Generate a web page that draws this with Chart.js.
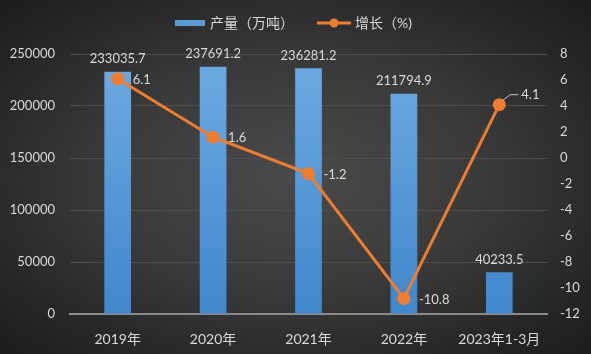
<!DOCTYPE html>
<html>
<head>
<meta charset="utf-8">
<title>产量与增长</title>
<script src="https://cdn.jsdelivr.net/npm/chart.js"></script>
<style>
  html, body { margin: 0; padding: 0; }
  body {
    width: 591px; height: 354px; overflow: hidden;
    background: radial-gradient(ellipse at 50% 50%, #4a4a4a 0%, #3a3a3a 45%, #262626 80%, #1c1c1c 100%);
  }
  #wrap { position: relative; width: 591px; height: 354px; }
</style>
</head>
<body>
<div id="wrap"><canvas id="myChart" width="591" height="354"></canvas></div>
<script>
var labels = ['2019年', '2020年', '2021年', '2022年', '2023年1-3月'];
var output = [233035.7, 237691.2, 236281.2, 211794.9, 40233.5];
var growth = [6.1, 1.6, -1.2, -10.8, 4.1];
var outputName = '产量（万吨）';
var growthName = '增长（%)';

var FONT = "Lato, 'Noto Sans CJK SC', sans-serif";
var TXT = '#d9d9d9';
var ORANGE = '#ed7d31';

var labelPlugin = {
    id: 'labels',
    afterDatasetsDraw: function (chart) {
        var ctx = chart.ctx;
        ctx.save();
        ctx.font = '13px ' + FONT;
        ctx.fillStyle = TXT;

        // bar values
        var bars = chart.getDatasetMeta(1).data;
        ctx.textAlign = 'center';
        ctx.textBaseline = 'bottom';
        bars.forEach(function (b, i) {
            ctx.fillText(output[i].toFixed(1), b.x, b.y - 6);
        });

        // line values
        var pts = chart.getDatasetMeta(0).data;
        ctx.textAlign = 'left';
        ctx.textBaseline = 'middle';
        pts.forEach(function (p, i) {
            if (i === pts.length - 1) {
                ctx.strokeStyle = '#bfbfbf';
                ctx.lineWidth = 1;
                ctx.beginPath();
                ctx.moveTo(p.x + 3, p.y - 4);
                ctx.lineTo(p.x + 11, p.y - 10);
                ctx.lineTo(p.x + 19, p.y - 10);
                ctx.stroke();
                ctx.fillText(growth[i].toFixed(1), p.x + 22, p.y - 10);
            } else {
                ctx.fillText(growth[i].toFixed(1), p.x + 15, p.y + 1);
            }
        });

        // legend
        var ly = 23;
        ctx.fillStyle = '#5b9bd5';
        ctx.fillRect(175, ly - 3, 30, 6);
        ctx.fillStyle = TXT;
        ctx.font = '14px ' + FONT;
        ctx.textBaseline = 'middle';
        ctx.fillText(outputName, 210, ly);
        ctx.strokeStyle = ORANGE;
        ctx.lineWidth = 3;
        ctx.beginPath();
        ctx.moveTo(317, ly);
        ctx.lineTo(351, ly);
        ctx.stroke();
        ctx.fillStyle = ORANGE;
        ctx.beginPath();
        ctx.arc(334, ly, 4.5, 0, Math.PI * 2);
        ctx.fill();
        ctx.fillStyle = TXT;
        ctx.fillText(growthName, 355, ly);
        ctx.restore();
    }
};

var ctx = document.getElementById('myChart').getContext('2d');
var chart = new Chart(ctx, {
    type: 'bar',
    data: {
        labels: labels,
        datasets: [{
            type: 'line',
            label: growthName,
            data: growth,
            yAxisID: 'y1',
            borderColor: ORANGE,
            backgroundColor: ORANGE,
            borderWidth: 3,
            pointRadius: 5,
            pointHoverRadius: 5,
            tension: 0,
            order: 0
        }, {
            label: outputName,
            data: output,
            yAxisID: 'y',
            backgroundColor: function (c) {
                var a = c.chart.chartArea;
                if (!a) return '#5b9bd5';
                var g = c.chart.ctx.createLinearGradient(0, a.top, 0, a.bottom);
                g.addColorStop(0, '#6eaae2');
                g.addColorStop(1, '#4087cc');
                return g;
            },
            categoryPercentage: 1,
            barPercentage: 0.28,
            order: 1
        }]
    },
    options: {
        responsive: false,
        animation: false,
        layout: { padding: { top: 54, left: 0, right: 0, bottom: 0 } },
        plugins: { legend: { display: false }, tooltip: { enabled: false } },
        scales: {
            x: {
                grid: { display: false },
                border: { display: true, color: '#8a8a8a', width: 2 },
                ticks: { color: TXT, font: { family: FONT, size: 14 }, padding: 9, maxRotation: 0 },
                afterFit: function (s) { s.height = 40; }
            },
            y: {
                position: 'left',
                min: 0, max: 250000,
                ticks: {
                    stepSize: 50000, color: TXT, font: { family: FONT, size: 13 }, padding: 15,
                    callback: function (v) { return String(v); }
                },
                grid: { color: '#4f4f4f', lineWidth: 1, drawTicks: false },
                border: { display: false },
                afterFit: function (s) { s.width = 70; }
            },
            y1: {
                position: 'right',
                min: -12, max: 8,
                ticks: {
                    stepSize: 2, color: TXT, font: { family: FONT, size: 13 }, padding: 13,
                    callback: function (v) { return String(v); }
                },
                grid: { display: false, drawTicks: false },
                border: { display: false },
                afterFit: function (s) { s.width = 44; }
            }
        }
    },
    plugins: [labelPlugin]
});
</script>
</body>
</html>
